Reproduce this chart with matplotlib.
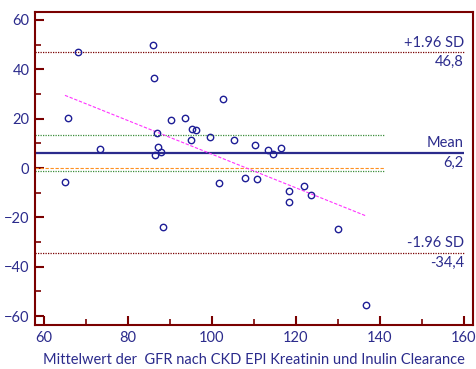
import matplotlib
matplotlib.use("Agg")
import matplotlib.pyplot as plt
import numpy as np

# Bland-Altman: mean of both GFR methods vs. their difference
mean_gfr = [65.0, 65.7, 68.0, 73.3, 85.9, 86.3, 86.5, 87.0, 87.2, 87.9, 88.3,
            90.2, 93.7, 95.1, 95.3, 96.1, 99.6, 101.8, 102.7, 105.2, 108.0,
            110.3, 110.8, 113.4, 114.5, 116.5, 118.3, 118.3, 122.0, 123.5,
            130.0, 136.6]
diff_gfr = [-5.7, 20.3, 46.9, 7.6, 49.9, 36.6, 5.2, 14.3, 8.6, 6.6, -24.0,
            19.5, 20.3, 11.4, 15.8, 15.5, 12.4, -6.0, 28.0, 11.4, -4.2,
            9.3, -4.6, 7.2, 5.6, 8.2, -9.3, -13.9, -7.4, -10.8,
            -24.6, -55.7]

mean_diff = 6.2
upper_loa = 46.8
lower_loa = -34.4
ci_mean = [13.4, -1.3]
reg_slope = -0.681
reg_intercept = 73.7

navy = "#2b2b8c"
darkred = "#7a0000"

plt.rcParams["font.family"] = ["Lato", "DejaVu Sans"]

fig = plt.figure(figsize=(4.76, 3.69), dpi=100)
ax = fig.add_axes([35 / 476, 1 - 325 / 369, 438 / 476, 313 / 369])
ax.set_xlim(57.86, 162.2)
ax.set_ylim(-63.6, 63.2)

# reference lines
ax.hlines([upper_loa, lower_loa], 57.86, 160, colors=darkred,
          linestyles=(0, (1, 1)), linewidth=0.9)
ax.hlines(mean_diff, 57.86, 160, colors=navy, linewidth=1.6)
ax.hlines(ci_mean, 57.86, 141, colors="#3a8f3a",
          linestyles=(0, (1, 1)), linewidth=0.9)
ax.hlines(0, 57.86, 141, colors="#ff9020",
          linestyles=(0, (3, 1.5)), linewidth=0.8)

# regression of the differences
xr = np.array([min(mean_gfr), max(mean_gfr)])
ax.plot(xr, reg_intercept + reg_slope * xr, color="#ff33ff",
        linestyle=(0, (3, 1.5)), linewidth=0.8)

ax.plot(mean_gfr, diff_gfr, "o", mfc="none", mec="#1e1e96",
        markersize=4.6, mew=1.0)

# labels at the right end of the lines
for val, top, bottom in [(upper_loa, "+1.96 SD", "46,8"),
                         (mean_diff, "Mean", "6,2"),
                         (lower_loa, "-1.96 SD", "-34,4")]:
    ax.annotate(top, (160, val), xytext=(0, 2), textcoords="offset points",
                ha="right", va="bottom", color=navy, fontsize=10.5)
    ax.annotate(bottom, (160, val), xytext=(0, -2), textcoords="offset points",
                ha="right", va="top", color=navy, fontsize=10.5)

ax.set_xticks(np.arange(60, 161, 20))
ax.set_xticks(np.arange(70, 160, 20), minor=True)
ax.set_yticks(np.arange(-60, 61, 20))
ax.set_yticks(np.arange(-50, 60, 20), minor=True)
ax.tick_params(which="major", direction="in", length=6.5, width=1.5,
               color=darkred, labelcolor=navy, labelsize=10.5, pad=4)
ax.tick_params(which="minor", direction="in", length=4, width=1.2,
               color=darkred)
for sp in ax.spines.values():
    sp.set_color(darkred)
    sp.set_linewidth(1.5)

ax.set_xlabel("Mittelwert der  GFR nach CKD EPI Kreatinin und Inulin Clearance",
              color=navy, fontsize=10.5, labelpad=6)

fig.savefig("out.png", dpi=100)
